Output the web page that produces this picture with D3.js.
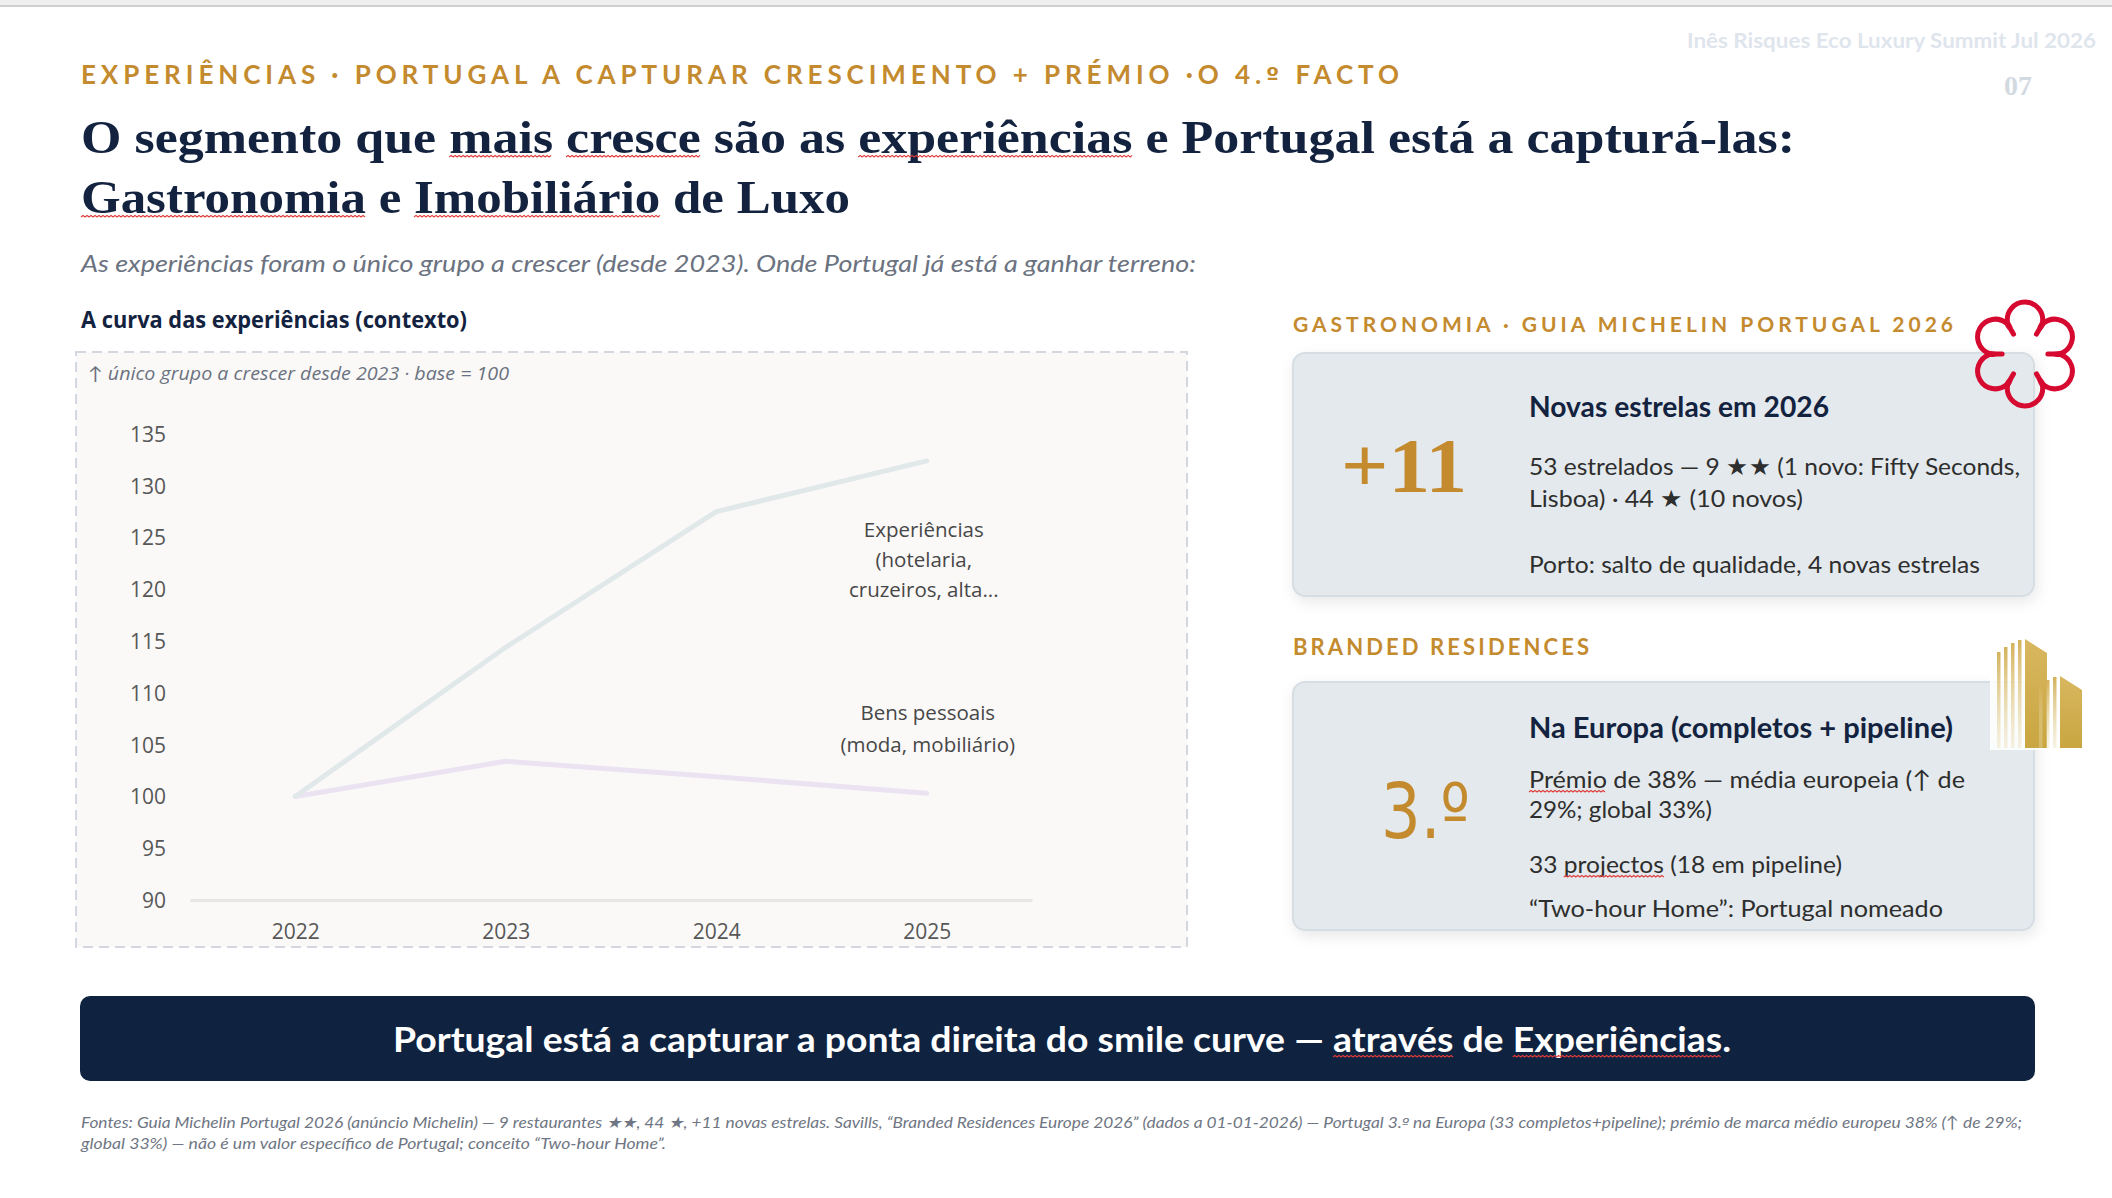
<!DOCTYPE html>
<html><head><meta charset="utf-8">
<script src="https://cdn.jsdelivr.net/npm/d3@7"></script>
<style>html,body{margin:0;padding:0;background:#fff;overflow:hidden}</style>
</head><body>
<svg id="c" width="2112" height="1198"></svg>
<script>
// ---------------- data ----------------
const years = ["2022", "2023", "2024", "2025"];
const experiencias = [100, 114.4, 127.5, 132.4];
const bensPessoais = [100, 103.4, 101.9, 100.3];
const yTickValues = [90, 95, 100, 105, 110, 115, 120, 125, 130, 135];
const expLabel = ["Experiências", "(hotelaria,", "cruzeiros, alta..."];
const bensLabel = ["Bens pessoais", "(moda, mobiliário)"];
const kicker = "EXPERIÊNCIAS · PORTUGAL A CAPTURAR CRESCIMENTO + PRÉMIO ·O 4.º FACTO";
const titleLines = ["O segmento que mais cresce são as experiências e Portugal está a capturá-las:", "Gastronomia e Imobiliário de Luxo"];
const subtitle = "As experiências foram o único grupo a crescer (desde 2023). Onde Portugal já está a ganhar terreno:";
const chartTitle = "A curva das experiências (contexto)";
const chartNote = "↑ único grupo a crescer desde 2023  ·  base = 100";
const gastroHeader = "GASTRONOMIA · GUIA MICHELIN PORTUGAL 2026";
const gastroBig = "+11";
const gastroTitle = "Novas estrelas em 2026";
const gastroLines = ["53 estrelados — 9 ★★ (1 novo: Fifty Seconds,", "Lisboa) ·  44 ★ (10 novos)", "Porto: salto de qualidade, 4 novas estrelas"];
const brandedHeader = "BRANDED RESIDENCES";
const brandedBig = "3.º";
const brandedTitle = "Na Europa (completos + pipeline)";
const brandedLines = ["Prémio de 38% — média europeia (↑ de", "29%; global 33%)", "33 projectos (18 em pipeline)", " “Two-hour Home”: Portugal nomeado"];
const banner = "Portugal está a capturar a ponta direita do smile curve — através de Experiências.";
const footnote = ["Fontes: Guia Michelin Portugal 2026 (anúncio Michelin) — 9 restaurantes ★★, 44 ★, +11 novas estrelas. Savills, “Branded Residences Europe 2026” (dados a 01-01-2026) — Portugal 3.º na Europa (33 completos+pipeline); prémio de marca médio europeu 38% (↑ de 29%;", "global 33%) — não é um valor específico de Portugal; conceito “Two-hour Home”."];
const watermark = "Inês Risques Eco Luxury Summit Jul 2026";
const pageNo = "07";

// ---------------- styles ----------------
const SANS = "Lato, 'Open Sans', sans-serif";
const UI = "'Open Sans', Lato, sans-serif";
const SERIF = "'Liberation Serif', 'DejaVu Serif', serif";
const ORD = "'DejaVu Sans', 'Liberation Sans', sans-serif";
const GOLD = "#c48a2e", NAVY = "#13233f", BODY = "#2e2e2e", GREY = "#6b7280";

const svg = d3.select("#c");
svg.append("rect").attr("width", 2112).attr("height", 1198).attr("fill", "#fff");
const defs = svg.append("defs");
const sh = defs.append("filter").attr("id", "sh").attr("x", "-10%").attr("y", "-10%").attr("width", "130%").attr("height", "140%");
sh.append("feDropShadow").attr("dx", 2).attr("dy", 5).attr("stdDeviation", 7).attr("flood-color", "#000").attr("flood-opacity", 0.09);

// text helper: "º" is set in a font whose ordinal glyph carries the underline bar
function txt(parent, o) {
  const t = parent.append("text").attr("x", o.x).attr("y", o.y)
    .attr("font-family", o.f || SANS).attr("font-size", o.s).attr("fill", o.c || BODY)
    .attr("font-weight", o.w || 400).attr("text-anchor", o.a || "start");
  if (o.ord) {
    const parts = o.t.split("º");
    parts.forEach((p, i) => {
      if (p) t.append("tspan").text(p);
      if (i < parts.length - 1) t.append("tspan").attr("font-family", ORD).attr("font-size", o.s * 0.9).text("º");
    });
  } else t.text(o.t);
  if (o.i) t.attr("font-style", "italic");
  if (o.len) t.attr("textLength", o.len).attr("lengthAdjust", o.adj || "spacingAndGlyphs");
  return t;
}
function squiggle(t, word, dy) {
  const node = t.node(), s = node.textContent, i = s.indexOf(word);
  if (i < 0) return;
  const x0 = node.getStartPositionOfChar(i).x, x1 = node.getEndPositionOfChar(i + word.length - 1).x;
  const y0 = +t.attr("y") + dy;
  const p = d3.path(); p.moveTo(x0, y0);
  let up = true;
  for (let xx = x0 + 2; xx <= x1; xx += 2) { p.lineTo(xx, y0 + (up ? -1.6 : 0)); up = !up; }
  svg.append("path").attr("d", p.toString()).attr("fill", "none").attr("stroke", "#e03a3a").attr("stroke-width", 1.1);
}

// ---------------- header ----------------
svg.append("rect").attr("x", 0).attr("y", 0).attr("width", 2112).attr("height", 6).attr("fill", "#efefef");
svg.append("line").attr("x1", 0).attr("x2", 2112).attr("y1", 6).attr("y2", 6).attr("stroke", "#d0d0d0").attr("stroke-width", 2);
txt(svg, {x: 2096, y: 48, t: watermark, s: 21, w: 700, c: "#dfe5ed", a: "end", len: 409});
txt(svg, {x: 2018, y: 95, t: pageNo, s: 28, w: 700, c: "#d3d9e1", a: "middle", f: SERIF});
txt(svg, {x: 81, y: 84, t: kicker, s: 26, w: 700, c: GOLD, len: 1318, adj: "spacing", ord: true});
const t1 = txt(svg, {x: 81, y: 153, t: titleLines[0], s: 47, w: 700, c: NAVY, f: SERIF, len: 1714});
const t2 = txt(svg, {x: 81, y: 213, t: titleLines[1], s: 47, w: 700, c: NAVY, f: SERIF, len: 769});
["mais", "cresce", "experiências"].forEach(w => squiggle(t1, w, 4));
["Gastronomia", "Imobiliário"].forEach(w => squiggle(t2, w, 4));
txt(svg, {x: 81, y: 272, t: subtitle, s: 24, w: 400, i: true, c: GREY, len: 1115});

// ---------------- chart ----------------
txt(svg, {x: 81, y: 328, t: chartTitle, s: 23, w: 700, c: NAVY, f: UI, len: 386});
svg.append("rect").attr("x", 76).attr("y", 352).attr("width", 1111).attr("height", 595)
  .attr("fill", "#faf9f8").attr("stroke", "#d3d8e0").attr("stroke-width", 2).attr("stroke-dasharray", "10 6");
txt(svg, {x: 88, y: 380, t: chartNote, s: 18, i: true, c: GREY, f: UI, len: 421});

const x = d3.scalePoint().domain(years).range([190, 1032]).padding(0.5);
const y = d3.scaleLinear().domain([90, 135]).range([900, 434]);

const gy = svg.append("g").attr("transform", "translate(166,0)")
  .call(d3.axisLeft(y).tickValues(yTickValues).tickSize(0).tickPadding(0));
gy.select(".domain").remove();
gy.selectAll("text").attr("font-family", UI).attr("font-size", 21).attr("fill", "#575757").attr("dy", "0.35em");

const gx = svg.append("g").attr("transform", `translate(0,${y(90)})`)
  .call(d3.axisBottom(x).tickSize(0).tickSizeOuter(0).tickPadding(24));
gx.select(".domain").attr("stroke", "#e6e6e6").attr("stroke-width", 3);
gx.selectAll("text").attr("font-family", UI).attr("font-size", 21).attr("fill", "#575757");

const line = d3.line().x((d, i) => x(years[i])).y(d => y(d));
svg.append("path").datum(bensPessoais).attr("d", line).attr("fill", "none")
  .attr("stroke", "#ebe3f2").attr("stroke-width", 5).attr("stroke-linecap", "round").attr("stroke-linejoin", "round");
svg.append("path").datum(experiencias).attr("d", line).attr("fill", "none")
  .attr("stroke", "#e1e8e9").attr("stroke-width", 5).attr("stroke-linecap", "round").attr("stroke-linejoin", "round");

const lx = x(years[years.length - 1]);
expLabel.forEach((s, i) => txt(svg, {x: lx - 3, y: 537 + i * 30, t: s, s: 20.5, c: "#474747", f: UI, a: "middle"}));
bensLabel.forEach((s, i) => txt(svg, {x: lx + 1, y: 720 + i * 32, t: s, s: 20.5, c: "#474747", f: UI, a: "middle"}));

// ---------------- right cards ----------------
txt(svg, {x: 1293, y: 332, t: gastroHeader, s: 21, w: 700, c: GOLD, len: 660, adj: "spacing"});
svg.append("rect").attr("x", 1293).attr("y", 353).attr("width", 741).attr("height", 243).attr("rx", 12)
  .attr("fill", "#e3e9ec").attr("stroke", "#d6dde3").attr("stroke-width", 2).attr("filter", "url(#sh)");
txt(svg, {x: 1404, y: 492, t: gastroBig, s: 78, w: 700, c: GOLD, f: SERIF, a: "middle", len: 126});
txt(svg, {x: 1529, y: 417, t: gastroTitle, s: 28, w: 700, c: NAVY, len: 300});
txt(svg, {x: 1529, y: 475, t: gastroLines[0], s: 24, len: 491});
txt(svg, {x: 1529, y: 507, t: gastroLines[1], s: 24, len: 274});
txt(svg, {x: 1529, y: 573, t: gastroLines[2], s: 24, len: 451});

txt(svg, {x: 1293, y: 655, t: brandedHeader, s: 22, w: 700, c: GOLD, len: 296, adj: "spacing"});
svg.append("rect").attr("x", 1293).attr("y", 682).attr("width", 741).attr("height", 248).attr("rx", 12)
  .attr("fill", "#e3e9ec").attr("stroke", "#d6dde3").attr("stroke-width", 2).attr("filter", "url(#sh)");
txt(svg, {x: 1381, y: 838, t: brandedBig, s: 76, w: 400, c: GOLD, f: ORD, len: 89});
txt(svg, {x: 1529, y: 738, t: brandedTitle, s: 28, w: 700, c: NAVY, len: 424});
const b0 = txt(svg, {x: 1529, y: 788, t: brandedLines[0], s: 24, len: 436});
txt(svg, {x: 1529, y: 818, t: brandedLines[1], s: 24, len: 183});
const b2 = txt(svg, {x: 1529, y: 873, t: brandedLines[2], s: 24, len: 313});
txt(svg, {x: 1529, y: 917, t: brandedLines[3], s: 24, len: 414});
squiggle(b0, "Prémio", 4);
squiggle(b2, "projectos", 4);

// Michelin flower (six elongated petals with inward hooks at the notches)
(function flower(cx, cy, R) {
  const d = 0.66 * R, rp = 0.34 * R, notch = 0.55 * R, tail = 0.44 * R, open = 100 * Math.PI / 180;
  const P = (r, a) => [cx + r * Math.cos(a), cy + r * Math.sin(a)];
  const p = d3.path();
  for (let k = 0; k < 6; k++) {
    const th = -Math.PI / 2 + k * Math.PI / 3;
    const a1 = th - Math.PI / 6, a2 = th + Math.PI / 6;
    const pc = P(d, th);
    const e1 = [pc[0] + rp * Math.cos(th - open), pc[1] + rp * Math.sin(th - open)];
    const n1 = P(notch, a1), n2 = P(notch, a2), t1 = P(tail, a1), t2 = P(tail, a2);
    p.moveTo(...t1);
    p.lineTo(...n1);
    p.quadraticCurveTo(...P(notch + 0.08 * R, a1 + 0.02), ...e1);
    p.arc(pc[0], pc[1], rp, th - open, th + open, false);
    p.quadraticCurveTo(...P(notch + 0.08 * R, a2 - 0.02), ...n2);
    p.lineTo(...t2);
  }
  svg.append("path").attr("d", p.toString()).attr("fill", "none").attr("stroke", "#d60a30")
    .attr("stroke-width", 5).attr("stroke-linecap", "round").attr("stroke-linejoin", "round");
})(2025, 354, 52);

// building icon
(function building() {
  const g = svg.append("g");
  const lg = defs.append("linearGradient").attr("id", "gold").attr("x1", 0).attr("y1", 0).attr("x2", 0).attr("y2", 1);
  lg.append("stop").attr("offset", 0).attr("stop-color", "#d8b760");
  lg.append("stop").attr("offset", 1).attr("stop-color", "#c9a640");
  const lb = defs.append("linearGradient").attr("id", "goldbar").attr("x1", 0).attr("y1", 0).attr("x2", 0).attr("y2", 1);
  lb.append("stop").attr("offset", 0).attr("stop-color", "#d2ae52").attr("stop-opacity", 0.95);
  lb.append("stop").attr("offset", 1).attr("stop-color", "#e9dcb0").attr("stop-opacity", 0.35);
  g.append("rect").attr("x", 1990).attr("y", 634).attr("width", 96).attr("height", 116).attr("fill", "#fff").attr("opacity", 0.85);
  [[1997, 652], [2004, 647], [2011, 643], [2018, 640]].forEach(([bx, by]) =>
    g.append("rect").attr("x", bx).attr("y", by).attr("width", 3.5).attr("height", 748 - by).attr("fill", "url(#goldbar)"));
  g.append("polygon").attr("points", "2025,639 2047,653 2047,748 2025,748").attr("fill", "url(#gold)");
  [[2039, 684], [2046, 680], [2053, 677]].forEach(([bx, by]) =>
    g.append("rect").attr("x", bx).attr("y", by).attr("width", 3.5).attr("height", 748 - by).attr("fill", "url(#goldbar)"));
  g.append("polygon").attr("points", "2060,676 2082,690 2082,748 2060,748").attr("fill", "url(#gold)");
})();

// ---------------- banner & footnote ----------------
svg.append("rect").attr("x", 80).attr("y", 996).attr("width", 1955).attr("height", 85).attr("rx", 10).attr("fill", "#0f2340");
const bt = txt(svg, {x: 1062, y: 1052, t: banner, s: 35, w: 700, c: "#ffffff", a: "middle", len: 1338});
squiggle(bt, "através", 5);
squiggle(bt, "Experiências", 5);
txt(svg, {x: 81, y: 1128, t: footnote[0], s: 16, i: true, c: "#6f7683", len: 1941, ord: true});
txt(svg, {x: 81, y: 1149, t: footnote[1], s: 16, i: true, c: "#6f7683", len: 585});
</script>
</body></html>
